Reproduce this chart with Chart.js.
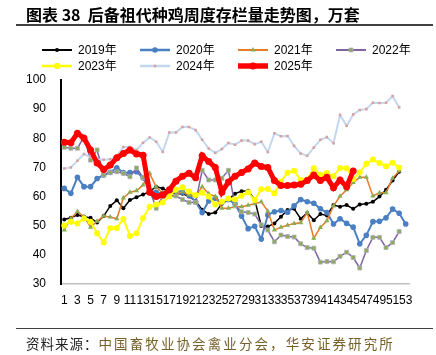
<!DOCTYPE html>
<html><head><meta charset="utf-8">
<script src="https://cdn.jsdelivr.net/npm/chart.js@4.4.1/dist/chart.umd.min.js"></script>
<style>
html,body{margin:0;padding:0;background:#fff;}
#wrap{position:relative;width:436px;height:355px;overflow:hidden;font-family:"Liberation Sans","Noto Sans CJK SC",sans-serif;}
#c{position:absolute;left:0;top:0;}
#title{position:absolute;left:26px;top:4px;font-family:"Noto Sans CJK SC",sans-serif;font-weight:bold;font-size:16px;line-height:20px;color:#000;white-space:pre;}
#rule1{position:absolute;left:16px;top:24px;width:417px;height:0;border-top:2px solid #404040;}
#rule2{position:absolute;left:16px;top:328px;width:417px;height:0;border-top:1.5px solid #404040;}
#src{position:absolute;left:26px;top:334px;font-family:"Noto Sans CJK SC",sans-serif;font-size:13.5px;line-height:18px;white-space:nowrap;}
#src .a{color:#222;letter-spacing:1px;}
#src .b{color:#76602a;letter-spacing:2.1px;}
.lg{position:absolute;height:16px;display:flex;align-items:center;font-family:"Liberation Sans","Noto Sans CJK SC",sans-serif;font-size:12px;color:#000;white-space:nowrap;}
.lg canvas{display:block;}
.lg span{margin-left:6px;line-height:16px;}
</style></head>
<body>
<div id="wrap">
<canvas id="c" width="436" height="355"></canvas>
<div id="title">图表 38  后备祖代种鸡周度存栏量走势图，万套</div>
<div id="rule1"></div>
<div id="legend"></div>
<div id="rule2"></div>
<div id="src"><span class="a">资料来源：</span><span class="b">中国畜牧业协会禽业分会，华安证券研究所</span></div>
</div>
<script>
const weeks = ['1','2','3','4','5','6','7','8','9','10','11','12','13','14','15','16','17','18','19','20','21','22','23','24','25','26','27','28','29','30','31','32','33','34','35','36','37','38','39','40','41','42','43','44','45','46','47','48','49','50','51','52','53'];
const seriesNames = ['2019年','2020年','2021年','2022年','2023年','2024年','2025年'];
const yTicks = [30,40,50,60,70,80,90,100];

const y2019 = [52.1,52.7,53.7,53.1,52.7,51.1,53.3,56.8,58.7,56.0,
               58.8,59.8,60.7,61.7,63.4,62.8,61.5,61.0,61.0,60.0,
               58.5,55.5,54.0,54.5,57.5,59.0,61.0,61.8,62.0,59.0,
               49.9,49.7,50.8,53.1,55.4,55.8,52.4,54.4,51.9,54.0,
               53.5,57.1,56.5,57.1,55.8,57.3,57.5,58.2,60.0,62.3,
               65.5,68.5];
const y2020 = [62.8,61.1,66.6,63.4,63.4,66.2,67.4,68.3,69.9,68.2,
               68.2,68.5,66.5,62.0,61.5,61.0,61.5,62.0,61.5,60.5,
               58.2,54.5,58.5,59.4,58.0,59.0,57.5,53.3,49.0,49.8,
               45.4,53.7,54.8,55.2,54.6,56.8,59.0,58.2,57.7,55.8,
               54.5,50.6,52.4,50.8,49.5,43.8,46.7,51.4,51.5,52.7,
               55.7,54.3,50.6];
const y2021 = [48.5,52.5,54.9,53.1,49.5,51.5,53.3,53.0,52.4,59.5,
               61.5,62.0,64.0,68.0,63.3,61.1,60.2,60.6,61.7,60.5,
               60.0,63.4,61.0,60.0,56.0,56.0,56.5,56.5,57.0,57.5,
               58.2,55.0,48.5,49.5,50.2,50.8,51.0,54.5,45.7,49.4,
               51.7,56.8,60.1,62.3,64.8,66.6,66.6,60.2,61.3,61.3,
               66.3,68.8];
const y2022 = [76.9,76.6,76.6,80.5,72.5,76.0,67.4,68.3,68.5,68.0,
               66.8,69.8,66.5,62.3,56.0,60.0,60.2,60.2,59.0,58.0,
               58.0,69.0,65.7,65.7,66.3,69.0,57.0,54.8,54.5,54.0,
               50.3,48.5,44.5,46.8,46.3,46.1,43.8,42.5,42.3,37.5,
               37.7,37.6,39.5,40.9,39.1,35.5,41.5,46.0,46.0,42.5,
               44.2,48.0];
const y2023 = [50.1,51.4,50.8,52.5,51.4,47.4,44.2,49.1,49.2,52.3,
               46.5,47.4,52.6,56.5,57.3,58.0,60.1,62.3,63.2,61.7,
               60.5,61.3,60.0,57.3,58.2,59.3,59.0,60.3,61.5,58.8,
               62.5,62.6,61.1,65.1,68.2,68.9,65.7,65.9,69.7,67.5,
               68.1,67.0,69.8,69.7,66.0,68.3,71.3,72.7,71.5,70.4,
               71.6,70.0];
const y2024 = [69.6,70.0,72.3,74.6,73.5,72.8,72.6,72.8,74.0,77.0,
               77.0,76.0,78.5,80.3,78.8,75.4,82.0,82.0,83.9,83.9,
               82.8,79.5,76.5,75.0,76.3,78.4,77.8,79.2,79.2,78.0,
               78.8,75.3,81.7,80.7,80.8,77.4,74.8,74.0,76.8,79.5,
               80.4,78.3,88.0,84.3,88.2,89.7,90.0,92.2,92.1,92.2,
               94.5,90.6];
const y2025 = [78.6,78.5,81.7,80.0,76.0,71.5,69.3,70.8,73.3,74.8,
               76.0,74.6,74.2,61.5,60.0,60.5,62.3,65.3,67.0,68.0,
               66.5,74.0,72.0,70.0,61.5,65.0,67.0,68.3,69.5,71.5,
               70.3,70.0,65.5,63.8,63.8,64.0,64.2,65.5,67.4,65.5,
               66.6,63.0,65.7,63.4,68.8];

function ds(label, data, line, lw, ps, pr, pfill, pborder, pbw, order){
  return {label, data, borderColor: line, backgroundColor: line, borderWidth: lw,
    pointStyle: ps, pointRadius: pr, pointHoverRadius: pr,
    pointBackgroundColor: pfill, pointBorderColor: pborder, pointBorderWidth: pbw,
    tension: 0, fill: false, order};
}
const datasets = [
  ds(seriesNames[0], y2019, '#000000', 1.5, 'circle', 2, '#000000', '#000000', 0, 7),
  ds(seriesNames[1], y2020, '#4a7fc2', 2, 'circle', 2.8, '#4a7fc2', '#4a7fc2', 0, 6),
  ds(seriesNames[2], y2021, '#e87a28', 1.5, 'triangle', 3, '#8aac52', '#8aac52', 0, 5),
  ds(seriesNames[3], y2022, '#7f64a1', 1.5, 'rect', 2.8, '#8aac52', '#b3adc4', 0.8, 4),
  ds(seriesNames[4], y2023, '#ffff00', 2, 'circle', 3, '#ffff00', '#ffff00', 0, 3),
  ds(seriesNames[5], y2024, '#c3d7ef', 2, 'rect', 1.8, '#d9a0a0', '#d9a0a0', 0, 2),
  ds(seriesNames[6], y2025, '#ff0000', 5, 'circle', 3.5, '#ff0000', '#ff0000', 0, 1)
];

const chart = new Chart(document.getElementById('c'), {
  type: 'line',
  data: { labels: weeks, datasets },
  options: {
    responsive: false, animation: false, devicePixelRatio: 1,
    layout: { padding: { left: 0, right: 27, top: 80, bottom: 41 } },
    plugins: { legend: { display: false }, tooltip: { enabled: false } },
    scales: {
      x: {
        type: 'category', offset: true,
        grid: { display: false, drawTicks: false },
        border: { display: true, color: '#bfbfbf', width: 1.5 },
        ticks: { autoSkip: false, maxRotation: 0, minRotation: 0, padding: 9, color: '#000',
          font: { size: 12, family: 'Liberation Sans' },
          callback: (v, i) => (i % 2 === 0 ? weeks[i] : '') },
        afterFit: s => { s.height = 30; }
      },
      y: {
        min: yTicks[0], max: yTicks[yTicks.length - 1],
        afterBuildTicks: s => { s.ticks = yTicks.map(v => ({ value: v })); },
        grid: { display: false, drawTicks: false },
        border: { display: true, color: '#000', width: 2 },
        ticks: { padding: 15, color: '#000', font: { size: 12, family: 'Liberation Sans' } },
        afterFit: s => { s.width = 61; }
      }
    }
  }
});

// Legend (HTML), built from the chart's datasets
const legendEl = document.getElementById('legend');
chart.data.datasets.forEach((d, i) => {
  const col = i % 4, row = Math.floor(i / 4);
  const item = document.createElement('div');
  item.className = 'lg';
  item.style.left = (42 + col * 98) + 'px';
  item.style.top = (row === 0 ? 42 : 58) + 'px';
  const cv = document.createElement('canvas');
  cv.width = 30; cv.height = 16;
  const ctx = cv.getContext('2d');
  ctx.strokeStyle = d.borderColor;
  ctx.lineWidth = Math.min(d.borderWidth + 0.5, 6);
  ctx.beginPath(); ctx.moveTo(0, 8); ctx.lineTo(30, 8); ctx.stroke();
  ctx.fillStyle = d.pointBackgroundColor;
  ctx.strokeStyle = d.pointBorderColor;
  ctx.lineWidth = d.pointBorderWidth;
  Chart.helpers.drawPoint(ctx, { pointStyle: d.pointStyle, radius: d.pointRadius, rotation: 0, borderWidth: d.pointBorderWidth }, 15, 8);
  const sp = document.createElement('span');
  sp.textContent = d.label;
  item.appendChild(cv); item.appendChild(sp);
  legendEl.appendChild(item);
});
</script>
</body></html>
